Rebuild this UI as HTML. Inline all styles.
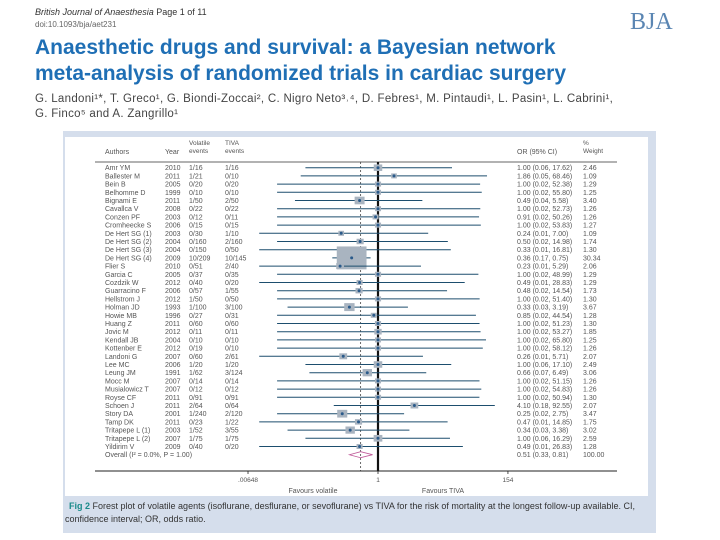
<!DOCTYPE html>
<html><head><meta charset="utf-8"><style>
body{margin:0;background:#fff;width:720px;height:540px;overflow:hidden;font-family:"Liberation Sans",sans-serif}
svg{display:block}
</style></head><body>
<svg id="c" width="720" height="540" xmlns="http://www.w3.org/2000/svg">
<text x="35" y="15" font-size="9" font-style="italic" fill="#333">British Journal of Anaesthesia <tspan font-style="normal">Page 1 of 11</tspan></text>
<text x="35" y="27" font-size="8" fill="#666">doi:10.1093/bja/aet231</text>
<text x="630" y="29" font-size="24" font-family="Liberation Serif,serif" fill="#5b86b3">BJA</text>
<text x="35" y="54" font-size="21" font-weight="bold" fill="#1f6fb5">Anaesthetic drugs and survival: a Bayesian network</text>
<text x="35" y="80" font-size="21" font-weight="bold" fill="#1f6fb5">meta-analysis of randomized trials in cardiac surgery</text>
<text x="35" y="102" font-size="11.5" fill="#444" letter-spacing="0.3">G. Landoni¹*, T. Greco¹, G. Biondi-Zoccai², C. Nigro Neto³˒⁴, D. Febres¹, M. Pintaudi¹, L. Pasin¹, L. Cabrini¹,</text>
<text x="35" y="117" font-size="11.5" fill="#444" letter-spacing="0.3">G. Finco⁵ and A. Zangrillo¹</text>
<rect x="63" y="131" width="593" height="402" fill="#d5deec"/>
<rect x="65" y="137" width="583" height="359" fill="#fff"/>
<text x="69" y="509" font-size="9" fill="#333"><tspan font-weight="bold" fill="#1a8a8a">Fig 2</tspan>  Forest plot of volatile agents (isoflurane, desflurane, or sevoflurane) vs TIVA for the risk of mortality at the longest follow-up available. CI,</text>
<text x="65" y="522" font-size="9" fill="#333">confidence interval; OR, odds ratio.</text>
<g id="plot"></g>
</svg>
<script>
const authors=["Amr YM","Ballester M","Bein B","Belhomme D","Bignami E","Cavallca V","Conzen PF","Cromheecke S","De Hert SG (1)","De Hert SG (2)","De Hert SG (3)","De Hert SG (4)","Flier S","Garcia C","Cozdzik W","Guarracino F","Hellstrom J","Holman JD","Howie MB","Huang Z","Jovic M","Kendall JB","Kottenber E","Landoni G","Lee MC","Leung JM","Mocc M","Musialowicz T","Royse CF","Schoen J","Story DA","Tamp DK","Tritapepe L (1)","Tritapepe L (2)","Yildirim V"];
const years=["2010","2011","2005","1999","2011","2008","2003","2006","2003","2004","2004","2009","2010","2005","2012","2006","2012","1993","1996","2011","2012","2004","2012","2007","2006","1991","2007","2007","2011","2011","2001","2011","2003","2007","2009"];
const volEvents=["1/16","1/21","0/20","0/10","1/50","0/22","0/12","0/15","0/30","0/160","0/150","10/209","0/51","0/37","0/40","0/57","1/50","1/100","0/27","0/60","0/11","0/10","0/19","0/60","1/20","1/62","0/14","0/12","0/91","2/64","1/240","0/23","1/52","1/75","0/40"];
const tivaEvents=["1/16","0/10","0/20","0/10","2/50","0/22","0/11","0/15","1/10","2/160","0/50","10/145","2/40","0/35","0/20","1/55","0/50","3/100","0/31","0/60","0/11","0/10","0/10","2/61","1/20","3/124","0/14","0/12","0/91","0/64","2/120","1/22","3/55","1/75","0/20"];
const orVal=[1.00,1.86,1.00,1.00,0.49,1.00,0.91,1.00,0.24,0.50,0.33,0.36,0.23,1.00,0.49,0.48,1.00,0.33,0.85,1.00,1.00,1.00,1.00,0.26,1.00,0.66,1.00,1.00,1.00,4.10,0.25,0.47,0.34,1.00,0.49];
const ciLo=[0.06,0.05,0.02,0.02,0.04,0.02,0.02,0.02,0.01,0.02,0.01,0.17,0.01,0.02,0.01,0.02,0.02,0.03,0.02,0.02,0.02,0.02,0.02,0.01,0.06,0.07,0.02,0.02,0.02,0.18,0.02,0.01,0.03,0.06,0.01];
const ciHi=[17.62,68.46,52.38,55.80,5.58,52.73,50.26,53.83,7.00,14.98,16.81,0.75,5.29,48.99,28.83,14.54,51.40,3.19,44.54,51.23,53.27,65.80,58.12,5.71,17.10,6.49,51.15,54.83,50.94,92.55,2.75,14.85,3.38,16.29,26.83];
const weights=[2.46,1.09,1.29,1.25,3.40,1.26,1.26,1.27,1.09,1.74,1.30,30.34,2.06,1.29,1.29,1.73,1.30,3.67,1.28,1.30,1.85,1.25,1.26,2.07,2.49,3.06,1.26,1.26,1.30,2.07,3.47,1.75,3.02,2.59,1.28];
const overall=[0.51,0.33,0.81];
const tickVals=[0.00648,1,154];
const tickLabels=[".00648","1","154"];
const NS="http://www.w3.org/2000/svg";
const g=document.getElementById('plot');
const X0=378,PPD=59.4,Y0=167.7,DY=8.2;
const xs=v=>X0+PPD*Math.log10(v);
const ys=i=>Y0+DY*i;
function mk(tag,a,txt){const e=document.createElementNS(NS,tag);for(const k in a)e.setAttribute(k,a[k]);if(txt!==undefined)e.textContent=txt;g.appendChild(e);return e;}
const tc="#555";
let e;
e=mk('text',{x:105,y:154,'font-size':7,fill:tc},'Authors');
e=mk('text',{x:165,y:154,'font-size':7,fill:tc},'Year');
e=mk('text',{x:189,y:145,'font-size':6.5,fill:tc},'Volatile');
e=mk('text',{x:189,y:153,'font-size':6.5,fill:tc},'events');
e=mk('text',{x:225,y:145,'font-size':6.5,fill:tc},'TIVA');
e=mk('text',{x:225,y:153,'font-size':6.5,fill:tc},'events');
e=mk('text',{x:517,y:154,'font-size':7,fill:tc},'OR (95% CI)');
e=mk('text',{x:583,y:145,'font-size':6.5,fill:tc},'%');
e=mk('text',{x:583,y:153,'font-size':6.5,fill:tc},'Weight');
e=mk('line',{x1:95,x2:617,y1:162,y2:162,stroke:'#333','stroke-width':0.8});
e=mk('line',{x1:xs(overall[0]),x2:xs(overall[0]),y1:162,y2:471,stroke:'#444','stroke-width':0.8,'stroke-dasharray':'2,2'});
e=mk('line',{x1:xs(1),x2:xs(1),y1:162,y2:471,stroke:'#111','stroke-width':2.2});
const f=v=>v.toFixed(2);
authors.forEach((a,i)=>{
 const y=ys(i);
 e=mk('text',{x:105,y:y+2.5,'font-size':7,fill:tc},a);
 e=mk('text',{x:165,y:y+2.5,'font-size':7,fill:tc},years[i]);
 e=mk('text',{x:189,y:y+2.5,'font-size':7,fill:tc},volEvents[i]);
 e=mk('text',{x:225,y:y+2.5,'font-size':7,fill:tc},tivaEvents[i]);
 e=mk('text',{x:517,y:y+2.5,'font-size':7,fill:tc},f(orVal[i])+' ('+f(ciLo[i])+', '+f(ciHi[i])+')');
 e=mk('text',{x:583,y:y+2.5,'font-size':7,fill:tc},f(weights[i]));
 e=mk('line',{x1:xs(ciLo[i]),x2:xs(ciHi[i]),y1:y,y2:y,stroke:'#1d4e6e','stroke-width':1});
 const w=Math.max(5,5.4*Math.sqrt(weights[i])),h=Math.max(5,w*0.77);
 e=mk('rect',{x:xs(orVal[i])-w/2,y:y-h/2,width:w,height:h,fill:'#a9b4c0'});
 e=mk('circle',{cx:xs(orVal[i]),cy:y,r:1.5,fill:'#2a5a8a'});
});
const yo=ys(authors.length);
e=mk('text',{x:105,y:yo+2.5,'font-size':7,fill:tc},'Overall (I² = 0.0%, P = 1.00)');
e=mk('text',{x:517,y:yo+2.5,'font-size':7,fill:tc},f(overall[0])+' ('+f(overall[1])+', '+f(overall[2])+')');
e=mk('text',{x:583,y:yo+2.5,'font-size':7,fill:tc},'100.00');
e=mk('polygon',{points:`${xs(overall[1])},${yo} ${xs(overall[0])},${yo-3} ${xs(overall[2])},${yo} ${xs(overall[0])},${yo+3}`,fill:'none',stroke:'#c05a9a','stroke-width':0.8});
e=mk('line',{x1:95,x2:617,y1:471,y2:471,stroke:'#222','stroke-width':1});
tickVals.forEach((v,i)=>{
 e=mk('line',{x1:xs(v),x2:xs(v),y1:471,y2:474,stroke:'#222','stroke-width':0.8});
 e=mk('text',{x:xs(v),y:482,'font-size':6.5,fill:tc,'text-anchor':'middle'},tickLabels[i]);
});
e=mk('text',{x:313,y:493,'font-size':7,fill:tc,'text-anchor':'middle'},'Favours volatile');
e=mk('text',{x:443,y:493,'font-size':7,fill:tc,'text-anchor':'middle'},'Favours TIVA');
</script>
</body></html>
